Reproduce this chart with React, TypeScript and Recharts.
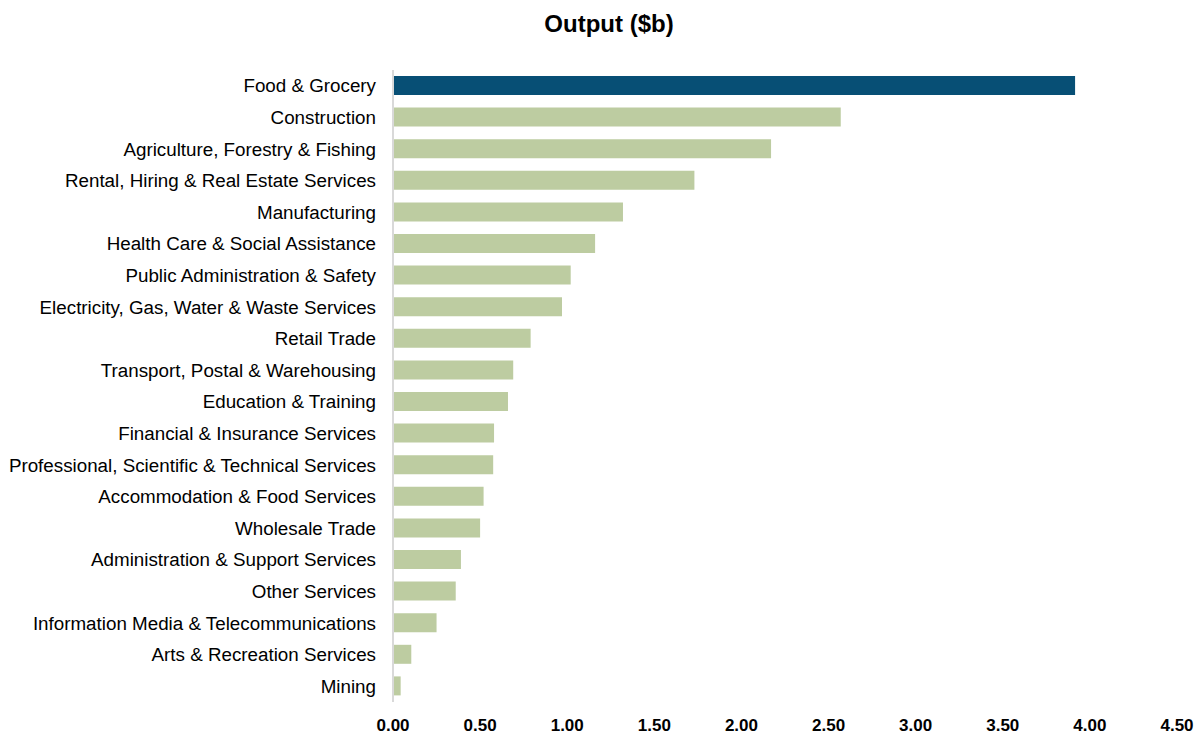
import { Bar, BarChart, Cell, XAxis, YAxis } from "recharts";

const industries = [
    "Food & Grocery",
    "Construction",
    "Agriculture, Forestry & Fishing",
    "Rental, Hiring & Real Estate Services",
    "Manufacturing",
    "Health Care & Social Assistance",
    "Public Administration & Safety",
    "Electricity, Gas, Water & Waste Services",
    "Retail Trade",
    "Transport, Postal & Warehousing",
    "Education & Training",
    "Financial & Insurance Services",
    "Professional, Scientific & Technical Services",
    "Accommodation & Food Services",
    "Wholesale Trade",
    "Administration & Support Services",
    "Other Services",
    "Information Media & Telecommunications",
    "Arts & Recreation Services",
    "Mining",
];

const output = [
    3.915, 2.57, 2.17, 1.73, 1.32, 1.16, 1.02, 0.97, 0.79, 0.69, 0.66, 0.58,
    0.575, 0.52, 0.5, 0.39, 0.36, 0.25, 0.105, 0.044,
];

const xTicks = [0, 0.5, 1, 1.5, 2, 2.5, 3, 3.5, 4, 4.5];

const highlighted = "Food & Grocery";

const data = industries.map((name, i) => ({ name, value: output[i] }));

const font = "'Liberation Sans', Arial, sans-serif";

export default function App() {
    return (
        <div
            style={{
                position: "absolute",
                left: 0,
                top: 0,
                width: 1203,
                height: 735,
                fontFamily: font,
                background: "#fff",
            }}
        >
            <div
                style={{
                    position: "absolute",
                    top: 10,
                    left: 0,
                    width: 1218,
                    textAlign: "center",
                    fontWeight: "bold",
                    fontSize: 24,
                    color: "#000",
                }}
            >
                Output ($b)
            </div>
            <BarChart
                width={1203}
                height={735}
                data={data}
                layout="vertical"
                margin={{ top: 70, right: 26, bottom: 3, left: 0 }}
            >
                <XAxis
                    type="number"
                    domain={[0, 4.5]}
                    ticks={xTicks}
                    tickFormatter={(v: number) => v.toFixed(2)}
                    axisLine={false}
                    tickLine={false}
                    tickMargin={11}
                    height={30}
                    tick={{ fontSize: 17, fontWeight: "bold", fill: "#000", fontFamily: font }}
                />
                <YAxis
                    type="category"
                    dataKey="name"
                    width={393}
                    interval={0}
                    tickLine={false}
                    tickMargin={11}
                    axisLine={{ stroke: "#d9d9d9", strokeWidth: 2 }}
                    tick={{ fontSize: 18.8, fill: "#000", fontFamily: font }}
                />
                <Bar dataKey="value" barSize={19} isAnimationActive={false}>
                    {data.map((d) => (
                        <Cell
                            key={d.name}
                            fill={d.name === highlighted ? "#074f75" : "#bdcca1"}
                        />
                    ))}
                </Bar>
            </BarChart>
        </div>
    );
}
